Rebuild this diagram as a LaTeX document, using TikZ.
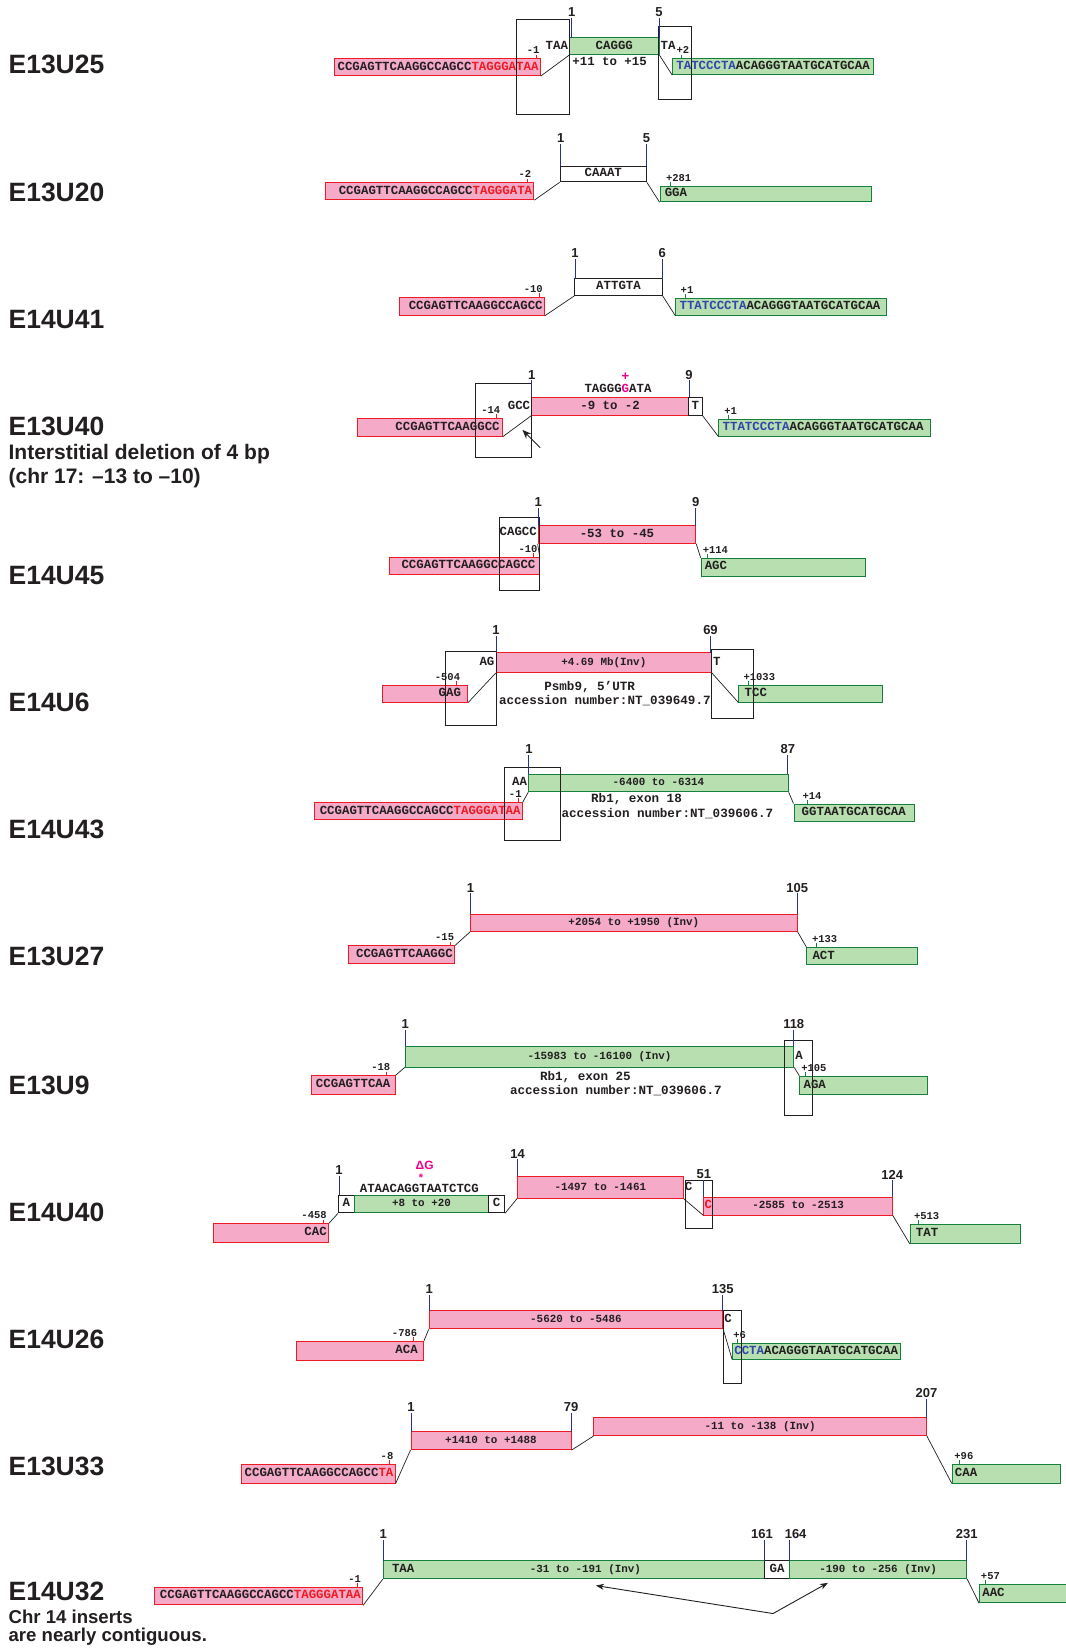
\documentclass[tikz,border=0pt]{standalone}
\usepackage{fontspec}
\setmainfont{Liberation Sans}
\newfontfamily\seqfont{Liberation Mono}
\usetikzlibrary{fit,arrows.meta}
\definecolor{pinkfill}{RGB}{245,170,200}
\definecolor{pinkline}{RGB}{237,28,36}
\definecolor{greenfill}{RGB}{183,223,176}
\definecolor{greenline}{RGB}{22,128,62}
\definecolor{seqblue}{RGB}{50,70,170}
\definecolor{seqred}{RGB}{237,28,36}
\definecolor{tickblue}{RGB}{40,50,150}
\definecolor{magent}{RGB}{236,0,140}
\definecolor{ink}{RGB}{35,31,32}
\tikzset{
  box/.style={inner sep=0pt, line width=0.9pt},
  pinkbox/.style={box, draw=pinkline, fill=pinkfill},
  greenbox/.style={box, draw=greenline, fill=greenfill},
  whitebox/.style={box, draw=ink, fill=white},
  openbox/.style={inner sep=0pt, draw=ink, line width=0.7pt},
  seq/.style={inner sep=0pt, text height=0.58em, text depth=0pt, font=\seqfont\bfseries\fontsize{12.4}{14}\selectfont, text=ink},
  rng/.style={inner sep=0pt, text height=0.58em, text depth=0pt, font=\seqfont\bfseries\fontsize{10.9}{13}\selectfont, text=ink},
  acc/.style={inner sep=0pt, text height=0.58em, text depth=0pt, font=\seqfont\bfseries\fontsize{12.6}{14}\selectfont, text=ink},
  tiklab/.style={inner sep=0.5pt, font=\seqfont\bfseries\fontsize{10.5}{12}\selectfont, text=ink},
  poslab/.style={inner sep=1pt, font=\bfseries\fontsize{13}{15}\selectfont, text=ink},
  conn/.style={line width=0.7pt, ink},
  btk/.style={draw=tickblue, line width=0.8pt},
  rtk/.style={draw=pinkline, line width=0.9pt},
  gtk/.style={draw=greenline, line width=0.9pt},
  rowlab/.style={anchor=base west, inner sep=0pt, font=\bfseries\fontsize{26.5}{30}\selectfont, text=ink},
  sublab/.style={anchor=base west, inner sep=0pt, font=\bfseries\fontsize{21}{24}\selectfont, text=ink},
  sublabb/.style={anchor=base west, inner sep=0pt, font=\bfseries\fontsize{18.6}{20}\selectfont, text=ink},
  magtxt/.style={inner sep=0pt, font=\bfseries\fontsize{13}{14}\selectfont, text=magent},
}
\newcommand\seqbox[6]{\node[#2, fit={(#3,#4) (#5,#6)}] (#1) {};}
\newcommand\btick[5]{\draw[btk] (#2,#3) -- (#2,#4); \node[poslab, anchor=south] (#1) at (#2,#4) {#5};}
\newcommand\rtick[4]{\draw[rtk] (#2,#3) -- (#2,#3-4); \node[tiklab, anchor=south east] (#1) at (#2+4,#3-4) {#4};}
\newcommand\gtick[4]{\draw[gtk] (#2,#3) -- (#2,#3-4); \node[tiklab, anchor=south west] (#1) at (#2-5,#3-4) {#4};}
\begin{document}
\begin{tikzpicture}[x=1.0513pt, y=-1.0513pt]
\useasboundingbox (0,0) rectangle (1014,1568);
\fill[white] (0,0) rectangle (1014,1568);

% ---------- row labels ----------
\node[rowlab] (lab1) at (8,70) {E13U25};
\node[rowlab] (lab2) at (8,192) {E13U20};
\node[rowlab] (lab3) at (8,313) {E14U41};
\node[rowlab] (lab4) at (8,414) {E13U40};
\node[sublab] (lab4b) at (8,437) {Interstitial deletion of 4 bp};
\node[sublab] (lab4c) at (8,460) {(chr 17: –13 to –10)};
\node[rowlab] (lab5) at (8,556) {E14U45};
\node[rowlab] (lab6) at (8,677) {E14U6};
\node[rowlab] (lab7) at (8,798) {E14U43};
\node[rowlab] (lab8) at (8,919) {E13U27};
\node[rowlab] (lab9) at (8,1041) {E13U9};
\node[rowlab] (lab10) at (8,1162) {E14U40};
\node[rowlab] (lab11) at (8,1283) {E14U26};
\node[rowlab] (lab12) at (8,1404) {E13U33};
\node[rowlab] (lab13) at (8,1523) {E14U32};
\node[sublabb] (lab13b) at (8,1545) {Chr 14 inserts};
\node[sublabb] (lab13c) at (8,1562) {are nearly contiguous.};

% ---------- row 1: E13U25 ----------
\seqbox{L1}{pinkbox}{318}{56}{514}{72}
\seqbox{I1}{greenbox}{542}{36}{627}{52}
\seqbox{R1}{greenbox}{640}{56}{831}{71}
\node[seq, anchor=east] (L1t) at ([xshift=-2pt]L1.east) {CCGAGTTCAAGGCCAGCC\textcolor{seqred}{TAGGGATAA}};
\node[seq] (I1t) at (I1.center) {CAGGG};
\node[seq, anchor=east] (I1a) at ([xshift=-1pt]I1.west) {TAA};
\node[seq, anchor=west] (I1b) at ([xshift=1pt]I1.east) {TA};
\node[seq] (I1c) at (580,60) {+11 to +15};
\node[seq, anchor=west] (R1t) at ([xshift=4pt]R1.west) {\textcolor{seqblue}{TATCCCTA}ACAGGGTAATGCATGCAA};
\node[openbox, fit={(491,18) (542,109)}] (O1a) {};
\node[openbox, fit={(626,25) (658,95)}] (O1b) {};
\draw[conn] (L1.south east) -- (I1.south west);
\draw[conn] (I1.south east) -- (R1.south west);
\rtick{k1a}{510}{56}{-1}
\gtick{k1b}{648}{56}{+2}
\btick{k1c}{544}{36}{17}{1}
\btick{k1d}{627}{36}{17}{5}

% ---------- row 2: E13U20 ----------
\seqbox{L2}{pinkbox}{310}{174}{508}{190}
\seqbox{I2}{whitebox}{533}{158}{615}{173}
\seqbox{R2}{greenbox}{628}{177}{829}{192}
\node[seq, anchor=east] (L2t) at ([xshift=-2pt]L2.east) {CCGAGTTCAAGGCCAGCC\textcolor{seqred}{TAGGGATA}};
\node[seq] (I2t) at (I2.center) {CAAAT};
\node[seq, anchor=west] (R2t) at ([xshift=5pt]R2.west) {GGA};
\draw[conn] (L2.south east) -- (I2.south west);
\draw[conn] (I2.south east) -- (R2.south west);
\rtick{k2a}{502}{174}{-2}
\gtick{k2b}{638}{177}{+281}
\btick{k2c}{533.5}{158}{137}{1}
\btick{k2d}{615}{158}{137}{5}

% ---------- row 3: E14U41 ----------
\seqbox{L3}{pinkbox}{380}{283}{518}{300}
\seqbox{I3}{whitebox}{547}{265}{630}{281}
\seqbox{R3}{greenbox}{643}{284}{843}{300}
\node[seq, anchor=east] (L3t) at ([xshift=-2pt]L3.east) {CCGAGTTCAAGGCCAGCC};
\node[seq] (I3t) at (I3.center) {ATTGTA};
\node[seq, anchor=west] (R3t) at ([xshift=4pt]R3.west) {\textcolor{seqblue}{TTATCCCTA}ACAGGGTAATGCATGCAA};
\draw[conn] (L3.south east) -- (I3.south west);
\draw[conn] (I3.south east) -- (R3.south west);
\rtick{k3a}{513}{283}{-10}
\gtick{k3b}{652}{284}{+1}
\btick{k3c}{547}{265}{246}{1}
\btick{k3d}{630}{265}{246}{6}

% ---------- row 4: E13U40 ----------
\seqbox{L4}{pinkbox}{340}{398}{478}{415}
\seqbox{I4}{pinkbox}{506}{378}{655}{395}
\seqbox{T4}{whitebox}{655}{378}{668}{395}
\seqbox{R4}{greenbox}{684}{399}{885}{415}
\node[seq, anchor=east] (L4t) at ([xshift=-3pt]L4.east) {CCGAGTTCAAGGCC};
\node[seq, anchor=east] (I4a) at ([xshift=-1pt]I4.west) {GCC};
\node[seq] (I4t) at (I4.center) {-9 to -2};
\node[seq] (I4s) at (588,371) {TAGGG\textcolor{magent}{G}ATA};
\node[magtxt] (I4p) at (595,358.5) {+};
\node[seq] (T4t) at (T4.center) {T};
\node[seq, anchor=west] (R4t) at ([xshift=4pt]R4.west) {\textcolor{seqblue}{TTATCCCTA}ACAGGGTAATGCATGCAA};
\node[openbox, fit={(452,365) (506,435)}] (O4) {};
\draw[conn] (L4.south east) -- (I4.south west);
\draw[conn] (T4.south east) -- (R4.south west);
\rtick{k4a}{472.6}{398}{-14}
\gtick{k4b}{693.5}{399}{+1}
\btick{k4c}{506}{378}{362}{1}
\btick{k4d}{655.6}{378}{362}{9}
\coordinate (A4s) at (514,426);
\coordinate (A4e) at (497,409);
\draw[line width=1pt, ink, -{Stealth[length=9pt, width=7pt]}] (A4s) -- (A4e);

% ---------- row 5: E14U45 ----------
\seqbox{L5}{pinkbox}{371}{530}{513}{547}
\seqbox{I5}{pinkbox}{512}{500}{662}{517}
\seqbox{R5}{greenbox}{667}{531}{823}{548}
\node[seq, anchor=east] (L5t) at ([xshift=-4pt]L5.east) {CCGAGTTCAAGGCCAGCC};
\node[seq, anchor=east] (I5a) at (511,507) {CAGCC};
\node[seq] (I5t) at (I5.center) {-53 to -45};
\node[seq, anchor=west] (R5t) at ([xshift=4pt]R5.west) {AGC};
\node[openbox, fit={(475,492) (513,562)}] (O5) {};
\draw[conn] (L5.north east) -- (I5.south west);
\draw[conn] (I5.south east) -- (R5.north west);
\rtick{k5a}{508}{530}{-10}
\gtick{k5b}{673}{531}{+114}
\btick{k5c}{512}{500}{483}{1}
\btick{k5d}{662}{500}{483}{9}

% ---------- row 6: E14U6 ----------
\seqbox{L6}{pinkbox}{364}{652}{445}{668}
\seqbox{I6}{pinkbox}{472}{621}{677}{640}
\seqbox{R6}{greenbox}{703}{652}{840}{668}
\node[seq, anchor=east] (L6t) at ([xshift=-7pt]L6.east) {GAG};
\node[seq, anchor=east] (I6a) at ([xshift=-1pt]I6.west) {AG};
\node[rng] (I6t) at (I6.center) {+4.69 Mb(Inv)};
\node[acc] (I6u) at (561,654) {Psmb9, 5’UTR};
\node[acc] (I6v) at (575.5,667.5) {accession number:NT\_039649.7};
\node[seq, anchor=west] (I6b) at ([xshift=1pt]I6.east) {T};
\node[seq, anchor=west] (R6t) at ([xshift=6pt]R6.west) {TCC};
\node[openbox, fit={(424,620) (472,690)}] (O6a) {};
\node[openbox, fit={(677,618) (717,683)}] (O6b) {};
\draw[conn] (L6.south east) -- (I6.south west);
\draw[conn] (I6.south east) -- (R6.south west);
\rtick{k6a}{434.4}{652}{-504}
\gtick{k6b}{711.8}{652}{+1033}
\btick{k6c}{472}{621}{605}{1}
\btick{k6d}{676}{621}{605}{69}

% ---------- row 7: E14U43 ----------
\seqbox{L7}{pinkbox}{299.5}{763.5}{497}{780}
\seqbox{I7}{greenbox}{503}{736.5}{750}{753.4}
\seqbox{R7}{greenbox}{755.4}{765}{870}{782}
\node[seq, anchor=east] (L7t) at ([xshift=-2pt]L7.east) {CCGAGTTCAAGGCCAGCC\textcolor{seqred}{TAGGGATAA}};
\node[seq, anchor=east] (I7a) at ([xshift=-1pt]I7.west) {AA};
\node[rng] (I7t) at (I7.center) {-6400 to -6314};
\node[acc] (I7u) at (605.6,761) {Rb1, exon 18};
\node[acc] (I7v) at (635,774.6) {accession number:NT\_039606.7};
\node[seq, anchor=west] (R7t) at ([xshift=8pt]R7.west) {GGTAATGCATGCAA};
\node[openbox, fit={(480,730) (533,800)}] (O7) {};
\draw[conn] (L7.north east) -- (I7.south west);
\draw[conn] (I7.south east) -- (R7.north west);
\rtick{k7a}{492.9}{763.5}{-1}
\gtick{k7b}{768}{765}{+14}
\btick{k7c}{503.2}{736.5}{718}{1}
\btick{k7d}{749.6}{736.5}{718}{87}

% ---------- row 8: E13U27 ----------
\seqbox{L8}{pinkbox}{332}{900}{432.5}{917}
\seqbox{I8}{pinkbox}{447.7}{869.7}{758.5}{886.2}
\seqbox{R8}{greenbox}{767.6}{901.4}{872.8}{918}
\node[seq, anchor=east] (L8t) at ([xshift=-2pt]L8.east) {CCGAGTTCAAGGC};
\node[rng] (I8t) at (I8.center) {+2054 to +1950 (Inv)};
\node[seq, anchor=west] (R8t) at ([xshift=6pt]R8.west) {ACT};
\draw[conn] (L8.north east) -- (I8.south west);
\draw[conn] (I8.south east) -- (R8.north west);
\rtick{k8a}{428.7}{900}{-15}
\gtick{k8b}{777}{901.4}{+133}
\btick{k8c}{447.7}{869.7}{850}{1}
\btick{k8d}{758.5}{869.7}{850}{105}

% ---------- row 9: E13U9 ----------
\seqbox{L9}{pinkbox}{296}{1023.5}{376}{1041}
\seqbox{I9}{greenbox}{385.5}{995.6}{755.2}{1015.2}
\seqbox{R9}{greenbox}{761}{1024}{882}{1041}
\node[seq] (L9t) at (L9.center) {CCGAGTTCAA};
\node[rng] (I9t) at (I9.center) {-15983 to -16100 (Inv)};
\node[acc] (I9u) at (557,1025) {Rb1, exon 25};
\node[acc] (I9v) at (586,1038.4) {accession number:NT\_039606.7};
\node[seq, anchor=west] (I9b) at ([xshift=1pt]I9.east) {A};
\node[seq, anchor=west] (R9t) at ([xshift=4pt]R9.west) {AGA};
\node[openbox, fit={(746,990) (773,1061)}] (O9) {};
\draw[conn] (L9.north east) -- (I9.south west);
\draw[conn] (I9.south east) -- (R9.north west);
\rtick{k9a}{368}{1023.5}{-18}
\gtick{k9b}{766.7}{1024}{+105}
\btick{k9c}{385.5}{995.6}{980}{1}
\btick{k9d}{755.2}{995.6}{980}{118}

% ---------- row 10: E14U40 ----------
\seqbox{L10}{pinkbox}{202.8}{1164.3}{312.6}{1181.7}
\seqbox{A10}{whitebox}{322}{1137}{337}{1154}
\seqbox{G10}{greenbox}{337}{1137}{465}{1154}
\seqbox{C10}{whitebox}{465}{1137}{480}{1154}
\seqbox{P10a}{pinkbox}{492.4}{1119.2}{650}{1140}
\seqbox{P10b}{pinkbox}{669.7}{1139}{849}{1156}
\seqbox{R10}{greenbox}{866}{1165}{971}{1183}
\node[seq, anchor=east] (L10t) at ([xshift=-2pt]L10.east) {CAC};
\node[seq] (A10t) at (A10.center) {A};
\node[rng] (G10t) at (G10.center) {+8 to +20};
\node[seq] (C10t) at (C10.center) {C};
\node[seq] (G10s) at (399,1131.5) {ATAACAGGTAATCTCG};
\node[magtxt, font=\bfseries\fontsize{11}{12}\selectfont] (G10m) at (400.5,1121) {*};
\node[magtxt, font=\bfseries\fontsize{12}{13}\selectfont] (G10d) at (404,1109) {ΔG};
\node[rng] (P10at) at (P10a.center) {-1497 to -1461};
\node[seq, anchor=west] (P10ac) at ([xshift=1pt]P10a.east) {C};
\node[seq, anchor=west] (P10bc) at ([xshift=1pt]P10b.west) {\textcolor{seqred}{C}};
\node[rng] (P10bt) at (P10b.center) {-2585 to -2513};
\node[seq, anchor=west] (R10t) at ([xshift=6pt]R10.west) {TAT};
\node[openbox, fit={(652,1123) (677.6,1169)}] (O10) {};
\draw[conn] (L10.north east) -- (A10.south west);
\draw[conn] (C10.south east) -- (P10a.south west);
\draw[conn] (P10a.south east) -- (P10b.south west);
\draw[conn] (P10b.south east) -- (R10.south west);
\rtick{k10a}{307.5}{1164.3}{-458}
\gtick{k10b}{874}{1165}{+513}
\btick{k10c}{322.5}{1137}{1119}{1}
\btick{k10d}{492.4}{1119.2}{1103}{14}
\btick{k10e}{669.7}{1139}{1123}{51}
\btick{k10f}{849}{1139}{1123}{124}

% ---------- row 11: E14U26 ----------
\seqbox{L11}{pinkbox}{282}{1276}{403}{1294}
\seqbox{I11}{pinkbox}{408.3}{1247}{687.7}{1264.4}
\seqbox{R11}{greenbox}{697}{1278}{857}{1293}
\node[seq, anchor=east] (L11t) at ([xshift=-6pt]L11.east) {ACA};
\node[rng] (I11t) at (I11.center) {-5620 to -5486};
\node[seq, anchor=west] (I11b) at ([xshift=1pt]I11.east) {C};
\node[seq, anchor=west] (R11t) at ([xshift=2pt]R11.west) {\textcolor{seqblue}{CCTA}ACAGGGTAATGCATGCAA};
\node[openbox, fit={(688,1247) (705,1316)}] (O11) {};
\draw[conn] (L11.north east) -- (I11.south west);
\draw[conn] (I11.south east) -- (R11.south west);
\rtick{k11a}{393.6}{1276}{-786}
\gtick{k11b}{702}{1278}{+6}
\btick{k11c}{408.3}{1247}{1232}{1}
\btick{k11d}{687.7}{1247}{1232}{135}

% ---------- row 12: E13U33 ----------
\seqbox{L12}{pinkbox}{230}{1393.5}{376}{1411}
\seqbox{P12a}{pinkbox}{391}{1362}{543.3}{1379.3}
\seqbox{P12b}{pinkbox}{565}{1349}{881.5}{1366}
\seqbox{R12}{greenbox}{906}{1393.5}{1009}{1411}
\node[seq, anchor=east] (L12t) at ([xshift=-2pt]L12.east) {CCGAGTTCAAGGCCAGCC\textcolor{seqred}{TA}};
\node[rng] (P12at) at (P12a.center) {+1410 to +1488};
\node[rng] (P12bt) at (P12b.center) {-11 to -138 (Inv)};
\node[seq, anchor=west] (R12t) at ([xshift=3pt]R12.west) {CAA};
\draw[conn] (L12.south east) -- (P12a.south west);
\draw[conn] (P12a.south east) -- (P12b.south west);
\draw[conn] (P12b.south east) -- (R12.south west);
\rtick{k12a}{370.9}{1393.5}{-8}
\gtick{k12b}{912.4}{1393.5}{+96}
\btick{k12c}{391}{1362}{1344}{1}
\btick{k12d}{543.3}{1362}{1344}{79}
\btick{k12e}{881.5}{1349}{1331}{207}

% ---------- row 13: E14U32 ----------
\seqbox{L13}{pinkbox}{147}{1510}{345}{1527}
\seqbox{G13a}{greenbox}{364.7}{1485}{727.6}{1502}
\seqbox{GA13}{whitebox}{727.6}{1485}{751.2}{1502}
\seqbox{G13b}{greenbox}{751.2}{1485}{919.8}{1502}
\seqbox{R13}{greenbox}{932}{1507.6}{1022}{1525}
\node[seq, anchor=east] (L13t) at ([xshift=-2pt]L13.east) {CCGAGTTCAAGGCCAGCC\textcolor{seqred}{TAGGGATAA}};
\node[seq, anchor=west] (G13aa) at ([xshift=9pt]G13a.west) {TAA};
\node[rng] (G13at) at (557,1493.5) {-31 to -191 (Inv)};
\node[seq] (GA13t) at (GA13.center) {GA};
\node[rng] (G13bt) at (G13b.center) {-190 to -256 (Inv)};
\node[seq, anchor=west] (R13t) at ([xshift=3pt]R13.west) {AAC};
\draw[conn] (L13.south east) -- (G13a.south west);
\draw[conn] (G13b.south east) -- (R13.south west);
\rtick{k13a}{340}{1510}{-1}
\gtick{k13b}{937.7}{1507.6}{+57}
\btick{k13c}{364.7}{1485}{1465}{1}
\draw[btk] (727.6,1485) -- (727.6,1465);
\node[poslab, anchor=south] (k13d) at (725,1465) {161};
\draw[btk] (751.2,1485) -- (751.2,1465);
\node[poslab, anchor=south] (k13e) at (757,1465) {164};
\btick{k13f}{919.8}{1485}{1465}{231}
\coordinate (ap) at (735.5,1535.2);
\coordinate (at1) at (567,1508.6);
\coordinate (at2) at (787.7,1506);
\draw[line width=0.9pt, ink, -{Stealth[length=8pt, width=6pt]}] (ap) -- (at1);
\draw[line width=0.9pt, ink, -{Stealth[length=8pt, width=6pt]}] (ap) -- (at2);
\end{tikzpicture}
\end{document}
